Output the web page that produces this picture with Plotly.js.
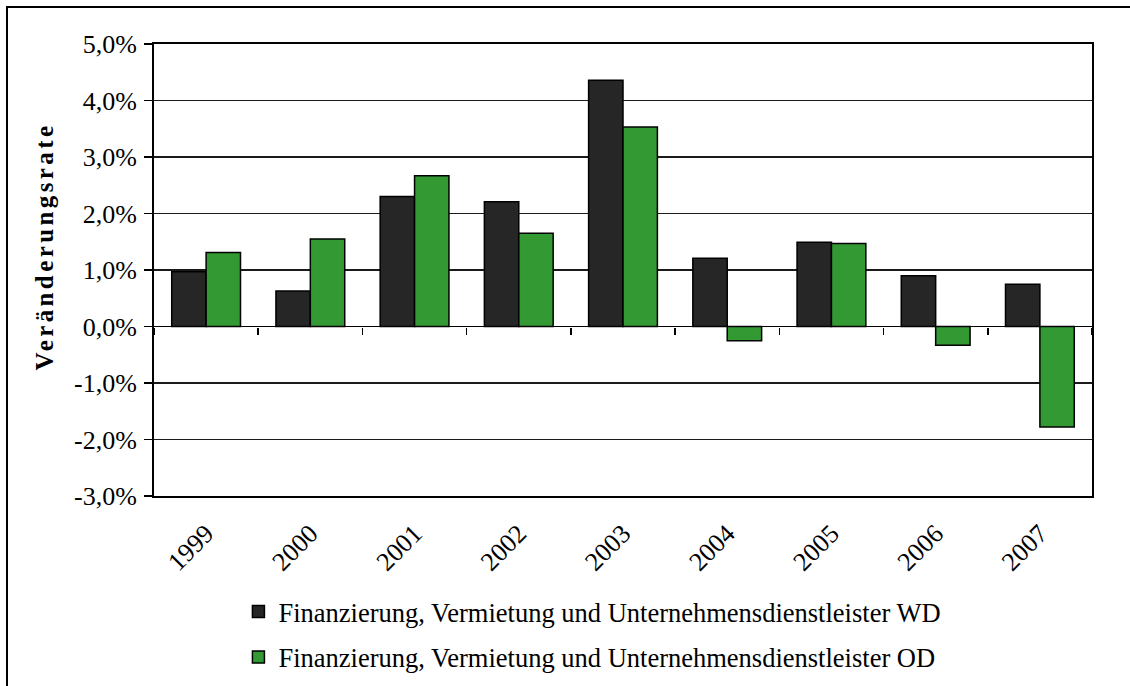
<!DOCTYPE html>
<html>
<head>
<meta charset="utf-8">
<script src="https://cdn.plot.ly/plotly-3.0.1.min.js"></script>
<style>
  html, body { margin: 0; padding: 0; background: #fff; }
  #frame { position: absolute; left: 6px; top: 6px; width: 1300px; height: 900px;
           border-left: 2px solid #000; border-top: 2px solid #000; }
  #chart { position: absolute; left: 0; top: 0; width: 1130px; height: 686px; }
  #chart .annotation-text { letter-spacing: 3.4px; }
</style>
</head>
<body>
<div id="frame"></div>
<div id="chart"></div>
<script>
const years = ['1999','2000','2001','2002','2003','2004','2005','2006','2007'];
const seriesWD = [0.97, 0.63, 2.30, 2.21, 4.36, 1.21, 1.49, 0.90, 0.75];
const seriesOD = [1.31, 1.55, 2.67, 1.65, 3.53, -0.25, 1.47, -0.33, -1.78];
const nameWD = 'Finanzierung, Vermietung und Unternehmensdienstleister WD';
const nameOD = 'Finanzierung, Vermietung und Unternehmensdienstleister OD';
const yTitle = 'Veränderungsrate';
const yTickVals = [-3, -2, -1, 0, 1, 2, 3, 4, 5];
const yTickText = ['-3,0%', '-2,0%', '-1,0%', '0,0%', '1,0%', '2,0%', '3,0%', '4,0%', '5,0%'];

const font = 'Liberation Serif, Times New Roman, serif';

const traces = [
  { type: 'bar', x: years, y: seriesWD, name: nameWD, legendgroup: 'a',
    marker: { color: '#262626', line: { color: '#000', width: 1.5 } }, hoverinfo: 'x+y' },
  { type: 'bar', x: years, y: seriesOD, name: nameOD, legendgroup: 'b',
    marker: { color: '#339933', line: { color: '#000', width: 1.5 } }, hoverinfo: 'x+y' },
  { type: 'scatter', mode: 'none', x: years, y: seriesWD, xaxis: 'x2', yaxis: 'y',
    showlegend: false, hoverinfo: 'skip' }
];

const layout = {
  width: 1130, height: 686,
  margin: { l: 154, r: 38, t: 44, b: 190, autoexpand: false },
  paper_bgcolor: 'rgba(0,0,0,0)',
  plot_bgcolor: '#fff',
  font: { family: font, size: 26, color: '#000' },
  separators: ',.',
  barmode: 'group',
  bargap: 0.34,
  bargroupgap: 0,
  showlegend: true,
  legend: { x: 0.09, y: -0.203, xanchor: 'left', yanchor: 'top',
            font: { family: font, size: 26.5, color: '#000' },
            tracegroupgap: 8, traceorder: 'grouped', bgcolor: 'rgba(0,0,0,0)' },
  xaxis: {
    type: 'category', categoryorder: 'array', categoryarray: years,
    range: [-0.5, 8.5],
    showline: true, linecolor: '#000', linewidth: 2, mirror: true,
    ticks: '', tickangle: -45, showgrid: false, ticklabelstandoff: 10,
    tickfont: { family: font, size: 26 }
  },
  xaxis2: {
    type: 'category', categoryorder: 'array', categoryarray: years,
    range: [-0.5, 8.5], overlaying: 'x', anchor: 'free', position: 0.375,
    showline: false, showticklabels: false, showgrid: false,
    ticks: 'outside', tickson: 'boundaries', ticklen: 7, tickwidth: 1.5, tickcolor: '#000'
  },
  yaxis: {
    range: [-3, 5], tickmode: 'array', tickvals: yTickVals, ticktext: yTickText,
    showline: true, linecolor: '#000', linewidth: 2, mirror: true,
    ticks: 'outside', ticklen: 8, tickwidth: 1.5, tickcolor: '#000',
    ticklabelstandoff: 2,
    showgrid: true, gridcolor: '#1a1a1a', gridwidth: 1.6,
    zeroline: true, zerolinecolor: '#000', zerolinewidth: 1.6,
    tickfont: { family: font, size: 26 }
  },
  annotations: [{
    text: '<b>' + yTitle + '</b>', textangle: -90,
    xref: 'paper', yref: 'paper', x: -0.117, y: 0.553,
    xanchor: 'center', yanchor: 'middle', showarrow: false,
    font: { family: font, size: 25, color: '#000' }
  }]
};

Plotly.newPlot('chart', traces, layout, { displayModeBar: false, staticPlot: true });
</script>
</body>
</html>
